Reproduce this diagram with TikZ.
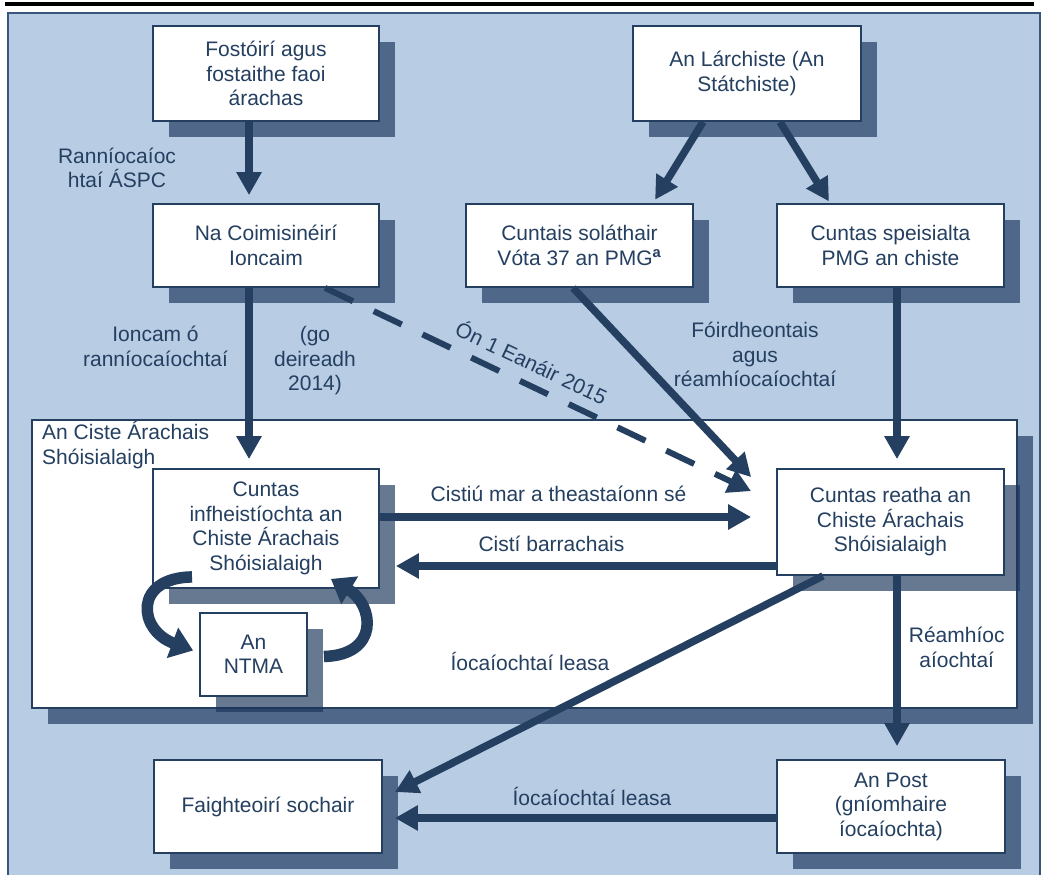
\documentclass[tikz,border=0pt]{standalone}
\usepackage{fontspec}
\setmainfont{Liberation Sans}
\usetikzlibrary{arrows.meta,shadows}
\definecolor{navy}{RGB}{36,63,96}
\definecolor{panel}{RGB}{184,204,228}
\definecolor{edge}{RGB}{56,85,122}
\definecolor{shad}{RGB}{25,51,89}
\newcommand\dfont{\fontsize{21}{24.5}\selectfont}
\begin{document}
\begin{tikzpicture}[x=1pt,y=-1pt,
  shadowed/.style={drop shadow={shadow xshift=16pt,shadow yshift=-16pt,fill=shad,opacity=0.66}},
  box/.style={draw=navy,line width=1.8pt,fill=white,inner sep=0pt,align=center,text=navy,font=\dfont,shadowed},
  lab/.style={text=navy,font=\dfont,align=center,inner sep=0pt,anchor=base},
  flow/.style={draw=navy,line width=7.5pt,-{Triangle[length=23pt,width=24pt]}},
  dflow/.style={flow,line width=6pt,dash pattern=on 31pt off 23pt},
  curv/.style={draw=navy,line width=11.5pt,-{Triangle[length=22pt,width=31pt]}}]
\useasboundingbox (0,0) rectangle (1041,875);
% top rule and background panel
\fill[black] (5,2) rectangle (1034,6);
\path[fill=panel,draw=edge,line width=1.5pt] (8,13) rectangle (1040,895);
% fund region
\node[draw=navy,line width=1.8pt,fill=white,inner sep=0pt,minimum width=985pt,minimum height=288pt,shadowed] (fund) at (524.5,564) {};
\node[lab,align=left,anchor=base west] (fundlab) at (42,464) {An Ciste Árachais\\Shóisialaigh};
% boxes
\node[box,minimum width=226pt,minimum height=95pt] (fost) at (266,73.5) {Fostóirí agus\\fostaithe faoi\\árachas};
\node[box,minimum width=226pt,minimum height=83pt] (coim) at (266,245.5) {Na Coimisinéirí\\Ioncaim};
\node[box,minimum width=228pt,minimum height=95pt] (larch) at (747,73.5) {An Lárchiste (An\\Státchiste)};
\node[box,minimum width=227pt,minimum height=83pt] (solath) at (579.5,245.5) {Cuntais soláthair\\Vóta 37 an PMG\textsuperscript{\textbf{a}}};
\node[box,minimum width=227pt,minimum height=83pt] (speis) at (890.5,245.5) {Cuntas speisialta\\PMG an chiste};
\node[box,minimum width=226pt,minimum height=119pt] (infh) at (266,528.5) {Cuntas\\infheistíochta an\\Chiste Árachais\\Shóisialaigh};
\node[box,minimum width=227pt,minimum height=106pt] (reatha) at (890.5,522) {Cuntas reatha an\\Chiste Árachais\\Shóisialaigh};
\node[box,minimum width=107pt,minimum height=83pt] (ntma) at (253.5,654.5) {An\\NTMA};
\node[box,minimum width=228pt,minimum height=93pt] (faigh) at (268,806.5) {Faighteoirí sochair};
\node[box,minimum width=228pt,minimum height=93pt] (post) at (891,806.5) {An Post\\(gníomhaire\\íocaíochta)};
% connectors
\draw[flow,shorten >=8pt] ([xshift=-17pt]fost.south) -- ([xshift=-17pt]coim.north);
\draw[flow,shorten >=9pt] ([xshift=-17pt]coim.south) -- ([xshift=-17pt]infh.north);
\draw[flow,shorten >=4pt] ([xshift=-44pt]larch.south) -- ([xshift=73.5pt]solath.north);
\draw[flow,shorten >=2pt] ([xshift=33pt]larch.south) -- ([xshift=-60.5pt]speis.north);
\draw[flow] ([xshift=-6.5pt]solath.south) -- ([shift={(-25pt,-9pt)}]reatha.north west);
\draw[dflow] ([xshift=59pt]coim.south) -- ([shift={(-25pt,-23pt)}]reatha.north west);
\draw[flow,shorten >=9pt] ([xshift=6.5pt]speis.south) -- ([xshift=6.5pt]reatha.north);
\draw[flow,shorten >=25pt] ([yshift=11.5pt]infh.east) -- ([yshift=11.5pt]infh.east -| reatha.west);
\draw[flow,shorten >=16pt] ([yshift=-44pt]reatha.west) -- ([yshift=-44pt]reatha.west -| infh.east);
\draw[flow] ([xshift=-67.5pt]reatha.south) -- ([shift={(12pt,14.5pt)}]faigh.east);
\draw[flow,shorten >=13pt] ([xshift=6.5pt]reatha.south) -- ([xshift=6pt]post.north);
\draw[flow,shorten >=12pt] ([yshift=-11.5pt]post.west) -- ([yshift=-11.5pt]post.west -| faigh.east);
\draw[curv] ([shift={(-74pt,12pt)}]infh.south) .. controls (133,578) and (138,630) .. ([shift={(-6pt,4pt)}]ntma.west);
\draw[curv] ([shift={(16pt,-2pt)}]ntma.east) .. controls (380,655) and (374,605) .. ([shift={(-49pt,10pt)}]infh.south east);
% labels
\node[lab] (l1) at (117,187.5) {Ranníocaíoc\\htaí ÁSPC};
\node[lab] (l2) at (155.5,366) {Ioncam ó\\ranníocaíochtaí};
\node[lab] (l3) at (315,390.7) {(go\\deireadh\\2014)};
\node[text=navy,font=\dfont,inner sep=0pt,rotate=-25.3] (l4) at (532,362) {Ón 1 Eanáir 2015};
\node[lab] (l5) at (755,386.7) {Fóirdheontais\\agus\\réamhíocaíochtaí};
\node[lab] (l6) at (558.5,501.7) {Cistiú mar a theastaíonn sé};
\node[lab] (l7) at (551.5,551.7) {Cistí barrachais};
\node[lab] (l8) at (530,670.7) {Íocaíochtaí leasa};
\node[lab] (l9) at (956.7,667.3) {Réamhíoc\\aíochtaí};
\node[lab] (l10) at (592,805) {Íocaíochtaí leasa};
\end{tikzpicture}
\end{document}
